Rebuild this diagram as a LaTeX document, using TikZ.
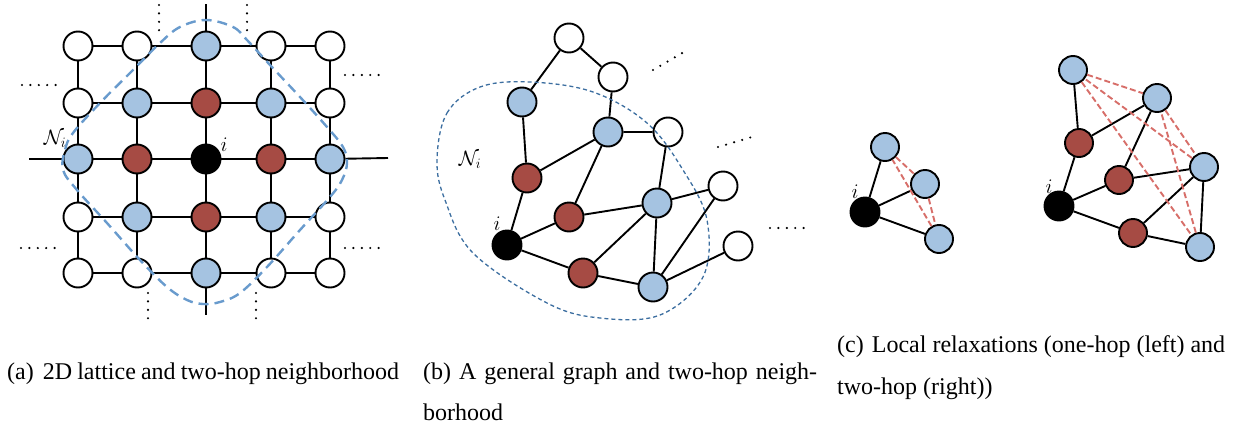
\documentclass[tikz,border=0pt]{standalone}
\usepackage{fontspec}
\setmainfont{Liberation Serif}
\usetikzlibrary{calc}
\definecolor{nodeblue}{RGB}{165,195,225}
\definecolor{nodered}{RGB}{166,75,68}
\definecolor{hoodblue}{RGB}{105,155,205}
\definecolor{hooddark}{RGB}{60,110,160}
\definecolor{relaxred}{RGB}{215,110,105}
\tikzset{
	vtx/.style={circle, draw=black, line width=1.9pt, minimum size=29pt, inner sep=0pt},
	wvtx/.style={vtx, fill=white},
	bvtx/.style={vtx, fill=nodeblue},
	rvtx/.style={vtx, fill=nodered},
	kvtx/.style={vtx, fill=black},
	link/.style={line width=1.9pt},
	relax/.style={draw=relaxred, line width=1.9pt, dash pattern=on 6pt off 3pt},
	moredots/.style={line width=2.4pt, line cap=round, dash pattern=on 0pt off 8.4pt},
	caption/.style={anchor=base west, inner sep=0pt, font=\fontsize{24}{28}\selectfont},
	lbl/.style={inner sep=0pt, font=\fontsize{20}{24}\selectfont}
}

\begin{document}
\begin{tikzpicture}[x=1pt, y=-1pt]
			%%%%% START %%%%%
			\useasboundingbox (0,0) rectangle (1238,423);
			
			% (a) lattice
			\node[wvtx] (a11) at (78,46) {};
			\node[wvtx] (a12) at (137,46) {};
			\node[bvtx] (a13) at (206,46) {};
			\node[wvtx] (a14) at (271,46) {};
			\node[wvtx] (a15) at (330,46) {};
			
			\node[wvtx] (a21) at (78,103) {};
			\node[bvtx] (a22) at (137,103) {};
			\node[rvtx] (a23) at (206,103) {};
			\node[bvtx] (a24) at (271,103) {};
			\node[wvtx] (a25) at (330,103) {};
			
			\node[bvtx] (a31) at (78,159) {};
			\node[rvtx] (a32) at (137,159) {};
			\node[kvtx] (a33) at (206,159) {};
			\node[rvtx] (a34) at (271,159) {};
			\node[bvtx] (a35) at (330,159) {};
			
			\node[wvtx] (a41) at (78,217) {};
			\node[bvtx] (a42) at (137,217) {};
			\node[rvtx] (a43) at (206,217) {};
			\node[bvtx] (a44) at (271,217) {};
			\node[wvtx] (a45) at (330,217) {};
			
			\node[wvtx] (a51) at (78,273) {};
			\node[wvtx] (a52) at (137,273) {};
			\node[bvtx] (a53) at (206,273) {};
			\node[wvtx] (a54) at (271,273) {};
			\node[wvtx] (a55) at (330,273) {};
			
			\draw[link] (a11) -- (a12) -- (a13) -- (a14) -- (a15);
			\draw[link] (a21) -- (a22) -- (a23) -- (a24) -- (a25);
			\draw[link] (a31) -- (a32) -- (a33) -- (a34) -- (a35);
			\draw[link] (a41) -- (a42) -- (a43) -- (a44) -- (a45);
			\draw[link] (a51) -- (a52) -- (a53) -- (a54) -- (a55);
			\draw[link] (a11) -- (a21) -- (a31) -- (a41) -- (a51);
			\draw[link] (a12) -- (a22) -- (a32) -- (a42) -- (a52);
			\draw[link] (a13) -- (a23) -- (a33) -- (a43) -- (a53);
			\draw[link] (a14) -- (a24) -- (a34) -- (a44) -- (a54);
			\draw[link] (a15) -- (a25) -- (a35) -- (a45) -- (a55);
			
			\coordinate (aW) at (29,159);
			\coordinate (aE) at (388,158);
			\coordinate (aN) at (206,4);
			\coordinate (aS) at (206,315);
			\draw[link] (aW) -- (a31);
			\draw[link] (a35) -- (aE);
			\draw[link] (aN) -- (a13);
			\draw[link] (a53) -- (aS);
			
			\draw[moredots] (159,5) -- (159,31);
			\draw[moredots] (247,5) -- (247,31);
			\draw[moredots] (148,293) -- (148,319);
			\draw[moredots] (256,293) -- (256,319);
			\draw[moredots] (22,85) -- (57,85);
			\draw[moredots] (345,75) -- (380,75);
			\draw[moredots] (21,248) -- (56,248);
			\draw[moredots] (345,248) -- (380,248);
			
			\draw[hoodblue, line width=2.4pt, dash pattern=on 10pt off 6pt] plot[smooth cycle, tension=0.6] coordinates {(206,20) (233,27) (247,40) (270,65) (300,97) (327,127) (343,147) (347,163) (342,180) (330,197) (300,230) (267,267) (240,293) (220,302) (203,304) (187,300) (167,287) (140,260) (107,223) (77,190) (63,170) (65,150) (73,133) (100,103) (133,70) (160,43) (180,27)};
			
			\node[lbl] (Na) at (55,139) {$\mathcal{N}_i$};
			\node[lbl] (ia) at (224,145) {$i$};
			
			% (b) general graph
			\node[wvtx] (b1) at (569,38) {};
			\node[wvtx] (b2) at (613,77) {};
			\node[bvtx] (b3) at (522,102) {};
			\node[bvtx] (b4) at (608,132) {};
			\node[wvtx] (b5) at (668,132) {};
			\node[rvtx] (b6) at (527,178) {};
			\node[wvtx] (b7) at (723,186) {};
			\node[bvtx] (b8) at (657,203) {};
			\node[rvtx] (b9) at (569,217) {};
			\node[kvtx] (b10) at (507,245) {};
			\node[wvtx] (b11) at (738,246) {};
			\node[rvtx] (b12) at (583,273) {};
			\node[bvtx] (b13) at (653,287) {};
			
			\draw[link] (b3) -- (b1) -- (b2) -- (b4) -- (b5);
			\draw[link] (b3) -- (b6) -- (b4) -- (b9);
			\draw[link] (b6) -- (b10) -- (b9) -- (b8);
			\draw[link] (b10) -- (b12) -- (b8) -- (b5);
			\draw[link] (b7) -- (b8) -- (b13) -- (b12);
			\draw[link] (b7) -- (b13) -- (b11);
			
			\draw[moredots] (653,70) -- (684,52);
			\draw[moredots] (718,147) -- (752,137);
			\draw[moredots] (770,228) -- (805,228);
			
			\draw[hooddark, line width=1.3pt, dash pattern=on 4pt off 3pt] plot[smooth cycle, tension=0.6] coordinates {(437,160) (447,113) (480,87) (530,82) (593,92) (647,123) (683,170) (707,220) (703,277) (660,315) (600,318) (547,303) (473,253) (445,200)};
			
			\node[lbl, font=\fontsize{22}{26}\selectfont] (Nb) at (470,160) {$\mathcal{N}_i$};
			\node[lbl] (ib) at (497,224) {$i$};
			
			% (c) local relaxations
			\node[bvtx, minimum size=28pt] (c1) at (885,147) {};
			\node[bvtx, minimum size=28pt] (c2) at (925,184) {};
			\node[kvtx, minimum size=29pt] (c3) at (865,212) {};
			\node[bvtx, minimum size=28pt] (c4) at (939,239) {};
			\draw[link] (c1) -- (c3) -- (c2);
			\draw[link] (c3) -- (c4);
			\draw[relax] (c1) -- (c2) -- (c4) -- (c1);
			\node[lbl] (ic) at (855,192) {$i$};
			
			\node[bvtx, minimum size=28pt] (d1) at (1073,70) {};
			\node[bvtx, minimum size=28pt] (d2) at (1157,98) {};
			\node[rvtx, minimum size=28pt] (d3) at (1079,143) {};
			\node[bvtx, minimum size=28pt] (d4) at (1204,167) {};
			\node[rvtx, minimum size=28pt] (d5) at (1119,180) {};
			\node[kvtx, minimum size=29pt] (d6) at (1059,206) {};
			\node[rvtx, minimum size=28pt] (d7) at (1133,233) {};
			\node[bvtx, minimum size=28pt] (d8) at (1200,247) {};
			\draw[link] (d1) -- (d3) -- (d2) -- (d5) -- (d4) -- (d7) -- (d8) -- (d4);
			\draw[link] (d3) -- (d6) -- (d5);
			\draw[link] (d6) -- (d7);
			\draw[relax] (d1) -- (d2) -- (d4) -- (d1) -- (d8) -- (d2);
			\node[lbl] (id) at (1049,187) {$i$};
			
			% captions
			\node[caption] (capa) at (7,379) {\makebox[392pt][s]{(a)\hspace{9pt}2D lattice and two-hop neighborhood}};
			\node[caption] (capb) at (423,379) {\makebox[394pt][s]{(b)\hspace{8pt}A general graph and two-hop neigh-}};
			\node[caption] (capb2) at (423,420) {borhood};
			\node[caption] (capc) at (837,352) {\makebox[388pt][s]{(c)\hspace{8pt}Local relaxations (one-hop (left) and}};
			\node[caption] (capc2) at (837,394) {two-hop (right))};
			%%%%% END %%%%%
\end{tikzpicture}
\end{document}
